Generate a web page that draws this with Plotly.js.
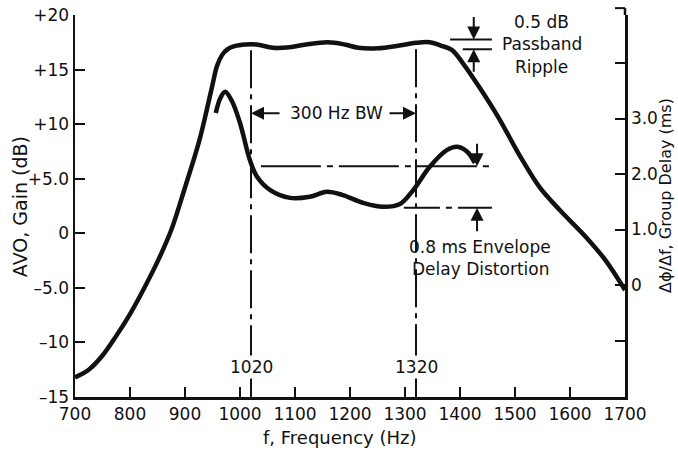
<!DOCTYPE html>
<html>
<head>
<meta charset="utf-8">
<script src="https://cdn.plot.ly/plotly-3.0.1.min.js"></script>
<style>html,body{margin:0;padding:0;background:#fff;}#chart{width:678px;height:451px;}</style>
</head>
<body>
<div id="chart"></div>
<script>
// ---- data ----
const gainFreq = [700, 725, 750, 775, 800, 825, 850, 875, 900, 925, 940, 950, 958, 967, 977, 990, 1010, 1030, 1060, 1090, 1120, 1160, 1190, 1215, 1250, 1290, 1320, 1345, 1365, 1385, 1405, 1435, 1470, 1510, 1545, 1580, 1630, 1665, 1700];
const gainDb   = [-13.2, -12.5, -11.2, -9.4, -7.4, -5.1, -2.6, 0.3, 4.2, 8.3, 11.4, 13.6, 15.3, 16.3, 16.85, 17.15, 17.3, 17.3, 17.0, 17.05, 17.3, 17.5, 17.3, 17.0, 16.95, 17.2, 17.45, 17.5, 17.2, 16.8, 15.6, 13.4, 10.6, 7.0, 4.2, 2.2, -0.4, -2.5, -5.2];

const delayFreq = [956, 964, 973, 985, 1000, 1018, 1031, 1055, 1091, 1127, 1158, 1187, 1224, 1260, 1291, 1315, 1345, 1376, 1395, 1413, 1427];
const delayMs   = [3.10, 3.36, 3.48, 3.32, 2.92, 2.25, 1.95, 1.71, 1.57, 1.59, 1.68, 1.62, 1.48, 1.41, 1.46, 1.71, 2.13, 2.43, 2.49, 2.40, 2.20];

const xTickVals = [700, 800, 900, 1000, 1100, 1200, 1300, 1400, 1500, 1600, 1700];
const xTickText = ['700', '800', '900', '1000', '1100', '1200', '1300', '1400', '1500', '1600', '1700'];
const yTickVals = [-15, -10, -5, 0, 5, 10, 15, 20];
const yTickText = ['\u201315', '\u201310', '\u20135.0', '0', '+5.0', '+10', '+15', '+20'];
const y2TickVals = [-2, -1, 0, 1, 2, 3, 4];
const y2TickText = ['', '', '0', '1.0', '2.0', '3.0', ''];

const bandEdges = [1020, 1320];           // 300 Hz BW markers
const rippleTop = 17.75, rippleBottom = 16.86;   // dB
const delayTop = 2.14, delayBottom = 1.39;        // ms

// ---- styling ----
const FONT = 'DejaVu Sans, Arial, sans-serif';
const INK = '#111';
const vDash = '38px,6px,5px,6px';
const hDash = '60px,6px,6px,6px';

const traces = [
  {x: gainFreq, y: gainDb, mode: 'lines', line: {color: INK, width: 4.5, shape: 'spline', smoothing: 1}, hoverinfo: 'skip', yaxis: 'y'},
  {x: delayFreq, y: delayMs, mode: 'lines', line: {color: INK, width: 4.5, shape: 'spline', smoothing: 1}, hoverinfo: 'skip', yaxis: 'y2'}
];

const shapes = [];
bandEdges.forEach((f, i) => {
  const top = i === 0 ? 16.77 : 16.86;
  shapes.push({type: 'line', xref: 'x', yref: 'y', x0: f, x1: f, y0: top, y1: -11.2, line: {color: INK, width: 2, dash: vDash}});
  shapes.push({type: 'line', xref: 'x', yref: 'y', x0: f, x1: f, y0: -13.3, y1: -15, line: {color: INK, width: 2}});
});
// ripple reference lines
shapes.push({type: 'line', xref: 'x', yref: 'y', x0: 1382, x1: 1458, y0: rippleTop, y1: rippleTop, line: {color: INK, width: 2}});
shapes.push({type: 'line', xref: 'x', yref: 'y', x0: 1405, x1: 1458, y0: rippleBottom, y1: rippleBottom, line: {color: INK, width: 2}});
// delay distortion reference lines
shapes.push({type: 'line', xref: 'x', yref: 'y2', x0: 1038, x1: 1458, y0: delayTop, y1: delayTop, line: {color: INK, width: 2, dash: hDash}});
shapes.push({type: 'line', xref: 'x', yref: 'y2', x0: 1298, x1: 1458, y0: delayBottom, y1: delayBottom, line: {color: INK, width: 2, dash: '36px,6px,6px,6px'}});
// right axis extension and top tick
shapes.push({type: 'line', xref: 'paper', yref: 'paper', x0: 1, x1: 1, y0: 1, y1: 1.018, line: {color: INK, width: 2.5}});
shapes.push({type: 'line', xref: 'paper', yref: 'paper', x0: 1, x1: 1 - 10/550, y0: 1.018, y1: 1.018, line: {color: INK, width: 2}});

function arrow(x, y, yref, ax, ay) {
  return {x: x, y: y, xref: 'x', yref: yref, text: '', showarrow: true, arrowhead: 2, arrowsize: 1.3, arrowwidth: 2, arrowcolor: INK, ax: ax, ay: ay, standoff: 0, startstandoff: 0};
}
function label(text, x, y, size, extra) {
  return Object.assign({x: x, y: y, xref: 'x', yref: 'y', text: text, showarrow: false, font: {family: FONT, size: size, color: INK}, xanchor: 'center', yanchor: 'middle'}, extra || {});
}

const annotations = [
  label('0.5 dB', 1549, 19.35, 17),
  label('Passband', 1549, 17.3, 17),
  label('Ripple', 1549, 15.2, 17),
  label('300 Hz BW', 1176, 11.0, 17),
  label('0.8 ms Envelope', 1436, -1.28, 17),
  label('Delay Distortion', 1438, -3.3, 17),
  label('1020', 1020, -12.28, 17),
  label('1320', 1320, -12.28, 17),
  arrow(1425, rippleTop, 'y', 0, -24),
  arrow(1425, rippleBottom, 'y', 0, 24),
  arrow(1431, delayTop, 'y2', 0, -24),
  arrow(1431, delayBottom, 'y2', 0, 25),
  arrow(1020, 11.0, 'y', 30, 0),
  arrow(1320, 11.0, 'y', -28, 0),
  {xref: 'paper', yref: 'paper', x: 0.482, y: -0.105, text: 'f, Frequency (Hz)', showarrow: false, font: {family: FONT, size: 18, color: INK}, xanchor: 'center', yanchor: 'middle'},
  {xref: 'paper', yref: 'paper', x: -0.1, y: 0.497, text: 'AVO, Gain (dB)', textangle: -90, showarrow: false, font: {family: FONT, size: 19, color: INK}, xanchor: 'center', yanchor: 'middle'},
  {xref: 'paper', yref: 'paper', x: 1.0745, y: 0.529, text: '\u0394\u03d5/\u0394f, Group Delay (ms)', textangle: -90, showarrow: false, font: {family: FONT, size: 16, color: INK}, xanchor: 'center', yanchor: 'middle'}
];

const axisBase = {showgrid: false, zeroline: false, showline: true, linecolor: INK, linewidth: 2.5, ticks: 'inside', ticklen: 10, tickwidth: 2, tickcolor: INK, tickfont: {family: FONT, size: 17, color: INK}, fixedrange: true};

const layout = {
  width: 678, height: 451,
  margin: {l: 75, r: 53, t: 15, b: 54, pad: 0},
  paper_bgcolor: '#fff', plot_bgcolor: '#fff',
  showlegend: false,
  xaxis: Object.assign({}, axisBase, {range: [700, 1700], tickmode: 'array', tickvals: xTickVals, ticktext: xTickText}),
  yaxis: Object.assign({}, axisBase, {range: [-15, 20], tickmode: 'array', tickvals: yTickVals, ticktext: yTickText}),
  yaxis2: Object.assign({}, axisBase, {overlaying: 'y', side: 'right', range: [-2.018, 4.865], tickmode: 'array', tickvals: y2TickVals, ticktext: y2TickText}),
  shapes: shapes,
  annotations: annotations
};

Plotly.newPlot('chart', traces, layout, {staticPlot: true, displayModeBar: false});
</script>
</body>
</html>
